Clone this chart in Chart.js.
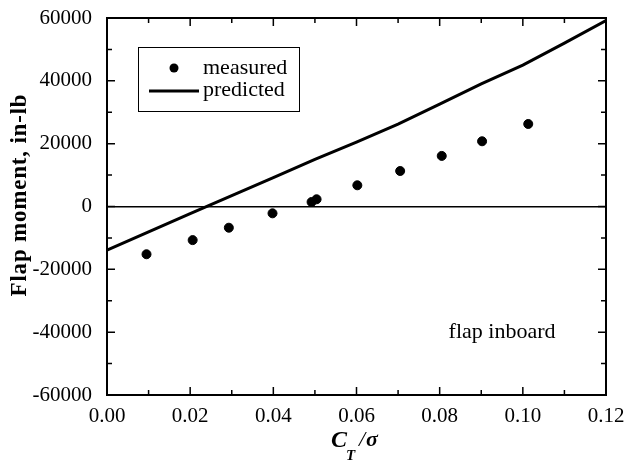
<!DOCTYPE html>
<html>
<head>
<meta charset="utf-8">
<script src="https://cdn.jsdelivr.net/npm/chart.js@4.4.1/dist/chart.umd.min.js"></script>
<style>
  html, body { margin: 0; padding: 0; background: #fff; }
  #wrap { width: 629px; height: 465px; }
</style>
</head>
<body>
<div id="wrap"><canvas id="flapChart" width="629" height="465"></canvas></div>
<script>
/* data */
const measuredX = [0.0095, 0.0206, 0.0293, 0.0398, 0.0492, 0.0504, 0.0602, 0.0705, 0.0805, 0.0902, 0.1013];
const measuredY = [-15200, -10700, -6750, -2170, 1430, 2300, 6750, 11300, 16100, 20760, 26270];
const predictedX = [0.00, 0.01, 0.02, 0.03, 0.04, 0.05, 0.06, 0.07, 0.08, 0.09, 0.10, 0.11, 0.12];
const predictedY = [-13850, -8070, -2300, 3500, 9200, 15000, 20500, 26200, 32600, 39000, 45000, 52000, 59200];
const xTicks = [0, 0.02, 0.04, 0.06, 0.08, 0.10, 0.12];
const yTicks = [-60000, -40000, -20000, 0, 20000, 40000, 60000];

const SERIF = "'Liberation Serif', 'Times New Roman', serif";

function pts(xs, ys) { return xs.map((x, i) => ({ x, y: ys[i] })); }

/* inward ticks on all four sides, legend box, titles, annotation */
const decor = {
  id: "decor",
  afterDraw(chart) {
    const { ctx, chartArea: a, scales: { x, y } } = chart;
    ctx.save();
    ctx.strokeStyle = "#000";
    ctx.lineWidth = 1.5;
    for (let i = 0; i <= 12; i++) {
      const px = x.getPixelForValue(i / 100);
      const len = i % 2 === 0 ? 8 : 5;
      ctx.beginPath();
      ctx.moveTo(px, a.bottom); ctx.lineTo(px, a.bottom - len);
      ctx.moveTo(px, a.top); ctx.lineTo(px, a.top + len);
      ctx.stroke();
    }
    for (let v = -60000; v <= 60000; v += 10000) {
      const py = y.getPixelForValue(v);
      const len = (v / 10000) % 2 === 0 ? 8 : 5;
      ctx.beginPath();
      ctx.moveTo(a.left, py); ctx.lineTo(a.left + len, py);
      ctx.moveTo(a.right, py); ctx.lineTo(a.right - len, py);
      ctx.stroke();
    }
    // frame
    ctx.lineWidth = 2;
    ctx.strokeRect(a.left, a.top, a.right - a.left, a.bottom - a.top);

    // legend
    ctx.lineWidth = 1;
    ctx.strokeRect(138.5, 47.5, 161, 64);
    ctx.fillStyle = "#000";
    ctx.beginPath(); ctx.arc(174, 68, 4.5, 0, Math.PI * 2); ctx.fill();
    ctx.lineWidth = 3;
    ctx.beginPath(); ctx.moveTo(149, 91); ctx.lineTo(199, 91); ctx.stroke();
    ctx.font = "22px " + SERIF;
    ctx.textBaseline = "middle";
    ctx.textAlign = "left";
    ctx.fillText("measured", 203, 68);
    ctx.fillText("predicted", 203, 90);

    // annotation
    ctx.textAlign = "center";
    ctx.fillText("flap inboard", x.getPixelForValue(0.095), y.getPixelForValue(-40000));

    // y title
    ctx.save();
    ctx.translate(20, 195);
    ctx.rotate(-Math.PI / 2);
    ctx.font = "bold 23px " + SERIF;
    if ("letterSpacing" in ctx) ctx.letterSpacing = "0.8px";
    ctx.textAlign = "center";
    ctx.fillText("Flap moment, in-lb", 0, 0);
    ctx.restore();

    // x title: C_T / sigma
    ctx.font = "italic bold 24px " + SERIF;
    ctx.textAlign = "left";
    ctx.textBaseline = "alphabetic";
    ctx.fillText("C", 331, 447);
    ctx.font = "italic bold 15px " + SERIF;
    ctx.fillText("T", 346, 460);
    ctx.font = "italic 22px " + SERIF;
    ctx.fillText("/", 359, 446);
    ctx.font = "italic bold 22px " + SERIF;
    ctx.fillText("\u03c3", 366, 446);
    ctx.restore();
  }
};

new Chart(document.getElementById("flapChart"), {
  type: "scatter",
  data: {
    datasets: [
      {
        label: "measured",
        data: pts(measuredX, measuredY),
        backgroundColor: "#000",
        borderColor: "#000",
        pointRadius: 4.5,
        showLine: false
      },
      {
        label: "predicted",
        data: pts(predictedX, predictedY),
        borderColor: "#000",
        borderWidth: 3,
        pointRadius: 0,
        showLine: true,
        tension: 0
      }
    ]
  },
  options: {
    responsive: false,
    animation: false,
    layout: { padding: { top: 18, right: 23, left: 0, bottom: 0 } },
    plugins: { legend: { display: false }, tooltip: { enabled: false } },
    scales: {
      x: {
        type: "linear",
        min: 0, max: 0.12,
        afterBuildTicks: s => { s.ticks = xTicks.map(v => ({ value: v })); },
        afterFit: s => { s.height = 70; s.paddingLeft = 0; s.paddingRight = 0; },
        ticks: {
          color: "#000",
          font: { family: SERIF, size: 21 },
          padding: 1,
          maxRotation: 0,
          callback: v => Number(v).toFixed(2)
        },
        grid: { display: false },
        border: { display: false }
      },
      y: {
        type: "linear",
        min: -60000, max: 60000,
        afterBuildTicks: s => { s.ticks = yTicks.map(v => ({ value: v })); },
        afterFit: s => { s.width = 107; s.paddingTop = 0; s.paddingBottom = 0; },
        ticks: {
          color: "#000",
          font: { family: SERIF, size: 21 },
          padding: 15,
          callback: v => String(v)
        },
        grid: {
          drawTicks: false,
          lineWidth: 1.5,
          color: c => (c.tick && c.tick.value === 0 ? "#000" : "rgba(0,0,0,0)")
        },
        border: { display: false }
      }
    }
  },
  plugins: [decor]
});
</script>
</body>
</html>
